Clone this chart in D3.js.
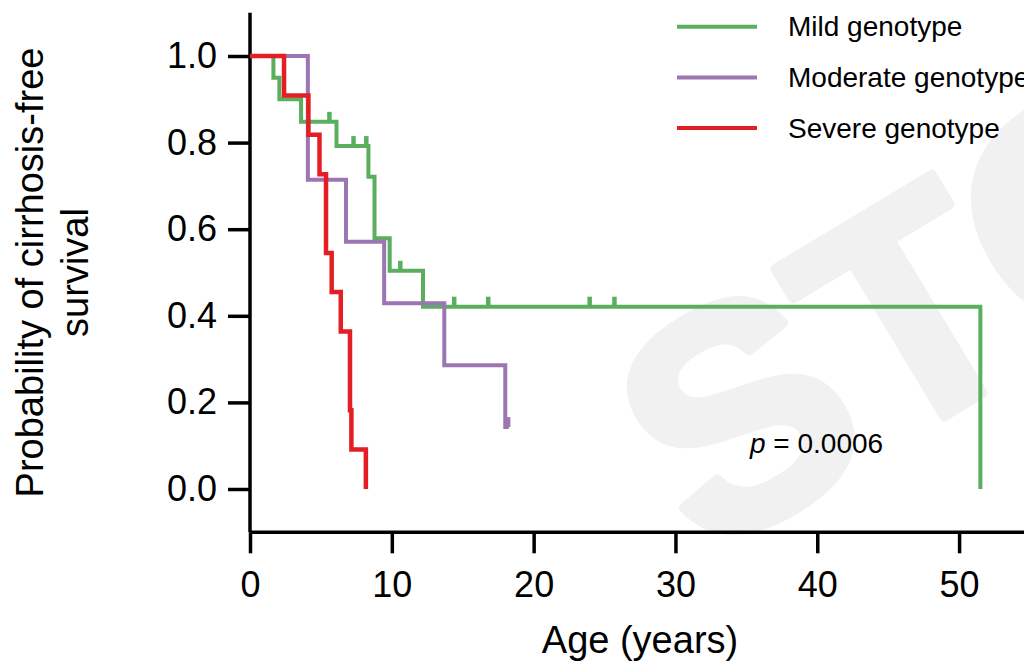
<!DOCTYPE html>
<html>
<head>
<meta charset="utf-8">
<script src="https://cdn.jsdelivr.net/npm/d3@7"></script>
<style>
  body { margin: 0; background: #fff; }
  svg { display: block; font-family: "Liberation Sans", Arial, sans-serif; }
</style>
</head>
<body>
<div id="chart"></div>
<script>
// Kaplan-Meier style data
var groupNames = ['Mild genotype', 'Moderate genotype', 'Severe genotype'];
var groupColors = ['#5aaf5e', '#9b76b2', '#e41e25'];

var mildTimes = [1.65, 2.07, 3.6, 6.1, 8.35, 8.78, 9.85, 12.2, 51.5];
var mildSurv = [0.95, 0.90, 0.848, 0.792, 0.721, 0.579, 0.504, 0.421, 0];
var mildEnd = 51.5;
var mildCensorTimes = [5.6, 7.3, 8.2, 10.6, 14.4, 16.8, 23.95, 25.7];

var moderateTimes = [4.08, 6.77, 9.46, 13.7, 18.0];
var moderateSurv = [0.714, 0.571, 0.429, 0.286, 0.143];
var moderateEnd = 18.25;
var moderateCensorTimes = [18.2];

var severeTimes = [2.4, 4.12, 4.9, 5.36, 5.76, 6.4, 7.05, 7.15, 8.17];
var severeSurv = [0.909, 0.818, 0.727, 0.545, 0.455, 0.364, 0.182, 0.091, 0];
var severeEnd = 8.17;
var severeCensorTimes = [];

var xTicks = [0, 10, 20, 30, 40, 50];
var yTicks = [0, 0.2, 0.4, 0.6, 0.8, 1.0];
var pText = '= 0.0006';

var width = 1024, height = 663;

var svg = d3.select('#chart').append('svg')
	.attr('width', width)
	.attr('height', height);

// faint watermark in the background
svg.append('text')
	.attr('transform', 'translate(705,560) rotate(-31)')
	.attr('font-size', '310px')
	.attr('font-weight', '700')
	.attr('fill', '#f1f1f1')
	.attr('stroke', '#f1f1f1')
	.attr('stroke-width', 10)
	.attr('stroke-linejoin', 'round')
	.text('STOCK');

var x = d3.scaleLinear().domain([0, 55]).range([250, 1030]);
var y = d3.scaleLinear().domain([-0.1, 1.1]).range([532.3, 12.7]);

// axes
var yAxis = svg.append('g')
	.attr('transform', 'translate(250,0)')
	.call(d3.axisLeft(y).tickValues(yTicks).tickFormat(d3.format('.1f')).tickSize(22).tickPadding(11));

var xAxis = svg.append('g')
	.attr('transform', 'translate(0,532.3)')
	.call(d3.axisBottom(x).tickValues(xTicks).tickFormat(d3.format('d')).tickSize(21).tickPadding(18));

[yAxis, xAxis].forEach(function(g) {
	g.select('.domain').attr('stroke', '#000').attr('stroke-width', 3.5);
	g.selectAll('.tick line').attr('stroke', '#000').attr('stroke-width', 3.5);
	g.selectAll('.tick text')
		.attr('font-family', '"Liberation Sans", Arial, sans-serif')
		.attr('font-size', '36px')
		.attr('fill', '#000');
});
// keep domain lines straight without outer ticks
yAxis.select('.domain').attr('d', 'M0,' + y(1.1) + 'V' + y(-0.1));
xAxis.select('.domain').attr('d', 'M' + x(0) + ',0H' + width);

// axis titles
svg.append('text')
	.attr('x', x(27.5))
	.attr('y', 653)
	.attr('text-anchor', 'middle')
	.attr('font-size', '38px')
	.text('Age (years)');

var yTitle = svg.append('text')
	.attr('transform', 'translate(0,' + ((y(1.1) + y(-0.1)) / 2) + ') rotate(-90)')
	.attr('text-anchor', 'middle')
	.attr('font-size', '38px');
yTitle.append('tspan').attr('x', 0).attr('y', 43).text('Probability of cirrhosis-free');
yTitle.append('tspan').attr('x', 0).attr('y', 88).text('survival');

// curves
var groups = [
	{times: mildTimes, surv: mildSurv, end: mildEnd, censor: mildCensorTimes, width: 4},
	{times: moderateTimes, surv: moderateSurv, end: moderateEnd, censor: moderateCensorTimes, width: 4},
	{times: severeTimes, surv: severeSurv, end: severeEnd, censor: severeCensorTimes, width: 4.5}
];

var line = d3.line()
	.x(function(d) { return x(d[0]); })
	.y(function(d) { return y(d[1]); })
	.curve(d3.curveStepAfter);

function survAt(g, t) {
	var s = 1;
	for (var i = 0; i < g.times.length; i++) {
		if (g.times[i] <= t) s = g.surv[i];
	}
	return s;
}

groups.forEach(function(g, i) {
	var pts = [[0, 1]];
	for (var k = 0; k < g.times.length; k++) pts.push([g.times[k], g.surv[k]]);
	pts.push([g.end, g.surv[g.surv.length - 1]]);

	svg.append('path')
		.datum(pts)
		.attr('d', line)
		.attr('fill', 'none')
		.attr('stroke', groupColors[i])
		.attr('stroke-width', g.width);

	svg.selectAll(null)
		.data(g.censor)
		.enter()
		.append('line')
		.attr('x1', function(t) { return x(t); })
		.attr('x2', function(t) { return x(t); })
		.attr('y1', function(t) { return y(survAt(g, t)); })
		.attr('y2', function(t) { return y(survAt(g, t)) - 10; })
		.attr('stroke', groupColors[i])
		.attr('stroke-width', 4.5);
});

// legend
var legend = svg.append('g');
groupNames.forEach(function(name, i) {
	var ly = 26.7 + i * 50.7;
	legend.append('line')
		.attr('x1', 677).attr('x2', 757)
		.attr('y1', ly).attr('y2', ly)
		.attr('stroke', groupColors[i])
		.attr('stroke-width', 4);
	legend.append('text')
		.attr('x', 788)
		.attr('y', ly + 9.5)
		.attr('font-size', '28px')
		.text(name);
});

// p value
var pLabel = svg.append('text')
	.attr('x', 750)
	.attr('y', 453)
	.attr('font-size', '28px');
pLabel.append('tspan').attr('font-style', 'italic').text('p');
pLabel.append('tspan').text(' ' + pText);
</script>
</body>
</html>
